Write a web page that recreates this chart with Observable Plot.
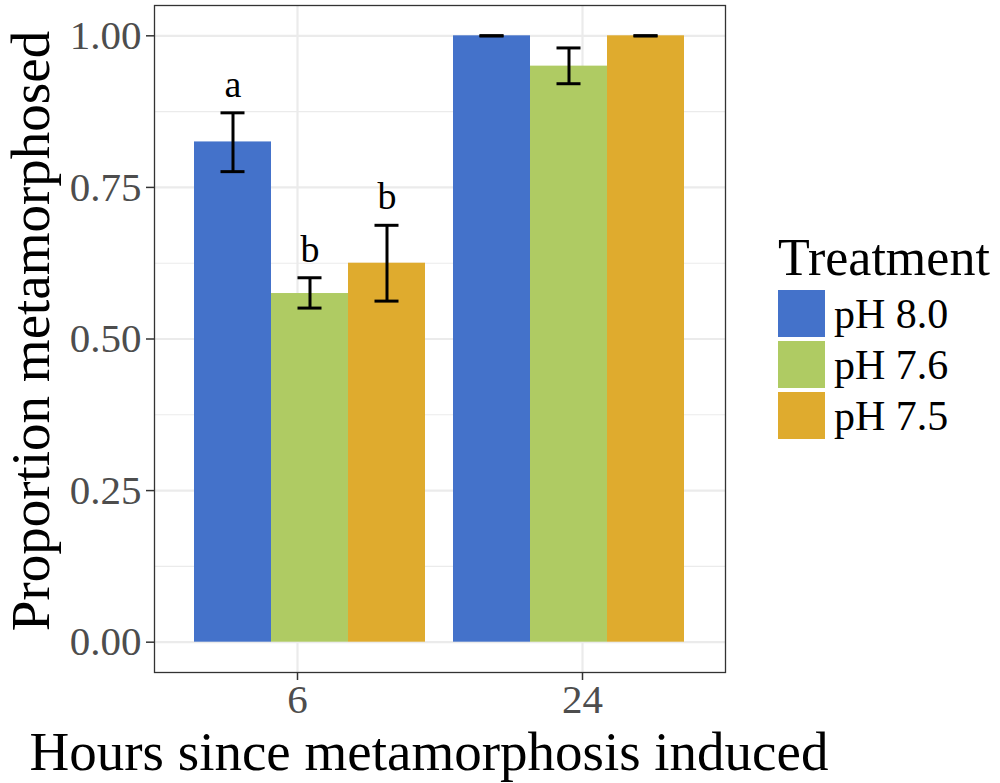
<!DOCTYPE html>
<html>
<head>
<meta charset="utf-8">
<script src="https://cdn.jsdelivr.net/npm/d3@7"></script>
<script src="https://cdn.jsdelivr.net/npm/@observablehq/plot@0.6"></script>
<style>
  body { margin: 0; background: #fff; font-family: "Liberation Serif", "Times New Roman", serif; }
  #wrap { position: relative; width: 1000px; height: 783px; }
  #back, #front { position: absolute; left: 0; top: 0; }
  #legend { position: absolute; left: 778px; top: 230px; color: #000; }
  #legend .title { font-size: 52px; line-height: 56px; margin-bottom: 2px; }
  #legend .row { display: flex; align-items: center; height: 51px; }
  #legend .key { width: 47px; height: 47px; margin-right: 9px; }
  #legend .lab { font-size: 42px; }
</style>
</head>
<body>
<div id="wrap">
  <div id="back"></div>
  <div id="front"></div>
  <div id="legend"></div>
</div>
<script>
const hours = ["6", "24"];
const treatments = ["pH 8.0", "pH 7.6", "pH 7.5"];
const colors = ["#4472ca", "#afcb63", "#dfab2e"];
const mean6 = [0.825, 0.575, 0.625];
const mean24 = [1.0, 0.95, 1.0];
const lower6 = [0.776, 0.551, 0.5625];
const upper6 = [0.873, 0.601, 0.6875];
const lower24 = [1.0, 0.921, 1.0];
const upper24 = [1.0, 0.98, 1.0];
const letters6 = ["a", "b", "b"];
const yTicks = [0, 0.25, 0.5, 0.75, 1];
const yMinor = [0.125, 0.375, 0.625, 0.875];

const data = [];
treatments.forEach((t, i) => {
  data.push({hours: "6", treatment: t, mean: mean6[i], lower: lower6[i], upper: upper6[i], letter: letters6[i]});
});
treatments.forEach((t, i) => {
  data.push({hours: "24", treatment: t, mean: mean24[i], lower: lower24[i], upper: upper24[i], letter: ""});
});
const labelled = data.filter(d => d.letter);

const common = {
  width: 1000,
  height: 783,
  marginLeft: 154,
  marginRight: 275,
  marginTop: 5,
  marginBottom: 111,
  style: {fontFamily: "'Liberation Serif', 'Times New Roman', serif", background: "transparent", overflow: "visible"}
};
const yScale = {domain: [-0.05, 1.05]};

// Background: panel grid, frame, axes and titles
const back = Plot.plot({
  ...common,
  x: {domain: hours, paddingInner: 0.1, paddingOuter: 0.15},
  y: yScale,
  marks: [
    Plot.ruleY(yMinor, {stroke: "#ebebeb", strokeWidth: 1.1}),
    Plot.ruleY(yTicks, {stroke: "#ebebeb", strokeWidth: 2.2}),
    Plot.gridX({stroke: "#ebebeb", strokeOpacity: 1, strokeWidth: 2.2}),
    Plot.frame({stroke: "#333", strokeWidth: 1.3}),
    Plot.axisY(yTicks, {tickFormat: d3.format(".2f"), tickSize: 8, tickPadding: 5, fontSize: 41, fill: "#4d4d4d", stroke: "#333", strokeWidth: 1.5, label: null}),
    Plot.axisX({anchor: "bottom", tickSize: 8, tickPadding: 3, fontSize: 41, fill: "#4d4d4d", stroke: "#333", strokeWidth: 1.5, label: null}),
    Plot.text(["Hours since metamorphosis induced"], {frameAnchor: "bottom", textAnchor: "middle", lineAnchor: "bottom", dx: -11, dy: 97, fontSize: 55, fill: "#000"}),
    Plot.text(["Proportion metamorphosed"], {frameAnchor: "left", textAnchor: "middle", rotate: -90, lineAnchor: "top", dx: -145, dy: -8, fontSize: 55, fill: "#000"})
  ]
});
document.getElementById("back").appendChild(back);

// Foreground: dodged bars, error bars and letters
const front = Plot.plot({
  ...common,
  fx: {domain: hours, paddingInner: 0.1, paddingOuter: 0.15, axis: null, label: null},
  x: {domain: treatments, padding: 0, axis: null},
  y: {...yScale, axis: null},
  color: {domain: treatments, range: colors},
  marks: [
    Plot.barY(data, {fx: "hours", x: "treatment", y: "mean", fill: "treatment"}),
    Plot.ruleX(data, {fx: "hours", x: "treatment", y1: "lower", y2: "upper", stroke: "#000", strokeWidth: 3}),
    Plot.tickY(data, {fx: "hours", x: "treatment", y: "lower", stroke: "#000", strokeWidth: 3, insetLeft: 26.5, insetRight: 26.5}),
    Plot.tickY(data, {fx: "hours", x: "treatment", y: "upper", stroke: "#000", strokeWidth: 3, insetLeft: 26.5, insetRight: 26.5}),
    Plot.text(labelled, {fx: "hours", x: "treatment", y: "upper", text: "letter", lineAnchor: "bottom", dy: -16, fontSize: 38, fill: "#000"})
  ]
});
document.getElementById("front").appendChild(front);

const legend = document.getElementById("legend");
const title = document.createElement("div");
title.className = "title";
title.textContent = "Treatment";
legend.appendChild(title);
treatments.forEach((t, i) => {
  const row = document.createElement("div");
  row.className = "row";
  const key = document.createElement("div");
  key.className = "key";
  key.style.background = colors[i];
  const lab = document.createElement("span");
  lab.className = "lab";
  lab.textContent = t;
  row.appendChild(key);
  row.appendChild(lab);
  legend.appendChild(row);
});
</script>
</body>
</html>
